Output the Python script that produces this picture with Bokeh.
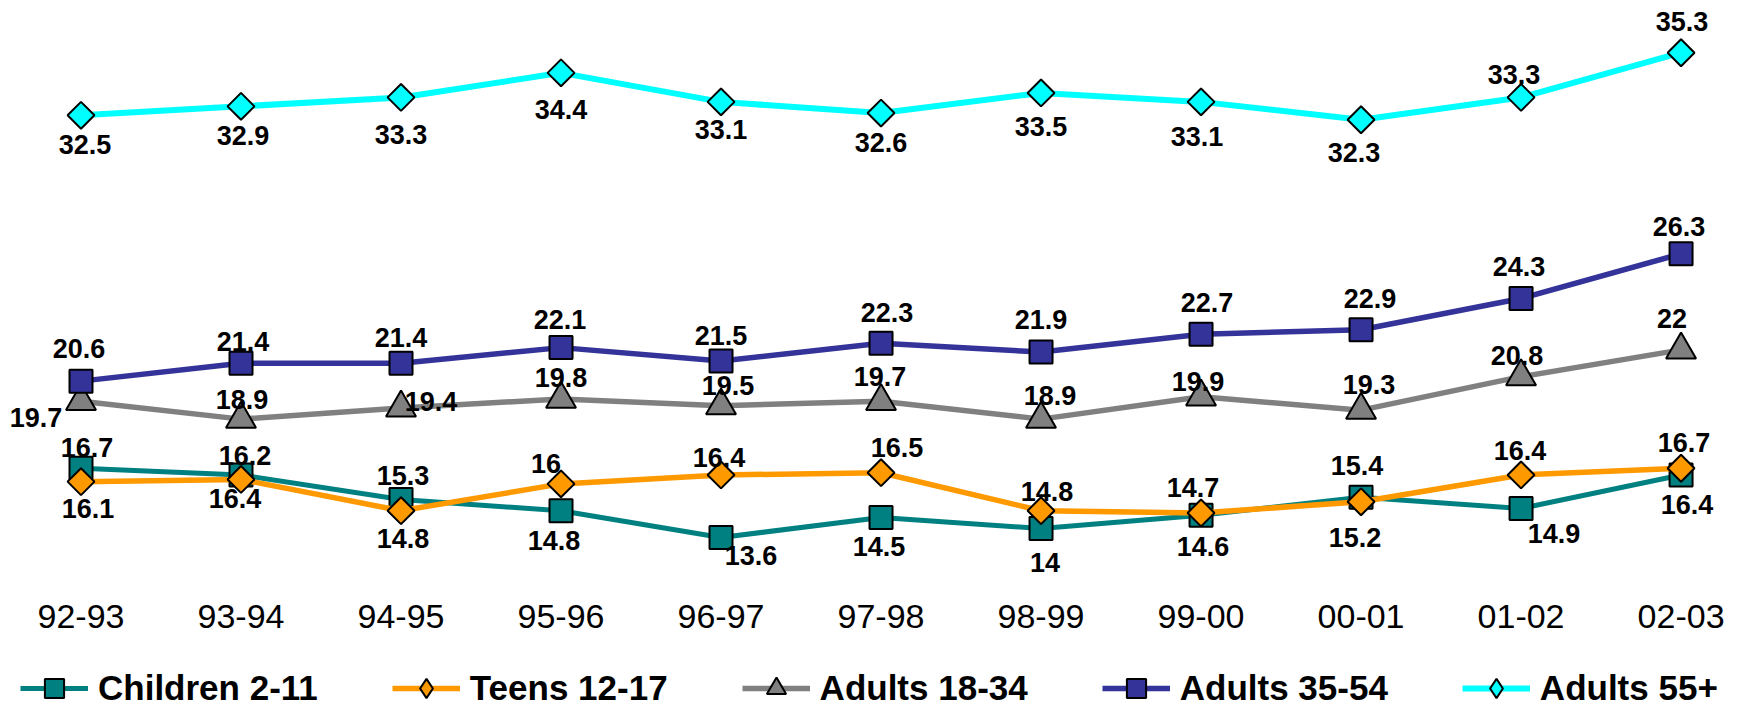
import math
from bokeh.plotting import figure
from bokeh.models import Range1d, FixedTicker, Legend, LegendItem, ColumnDataSource
from bokeh.embed import file_html
from bokeh.resources import INLINE
from bokeh.core.properties import value

# ---------------- data ----------------
categories = ["92-93", "93-94", "94-95", "95-96", "96-97", "97-98",
              "98-99", "99-00", "00-01", "01-02", "02-03"]

children_2_11 = [16.7, 16.4, 15.3, 14.8, 13.6, 14.5, 14.0, 14.6, 15.4, 14.9, 16.4]
teens_12_17 = [16.1, 16.2, 14.8, 16.0, 16.4, 16.5, 14.8, 14.7, 15.2, 16.4, 16.7]
adults_18_34 = [19.7, 18.9, 19.4, 19.8, 19.5, 19.7, 18.9, 19.9, 19.3, 20.8, 22.0]
adults_35_54 = [20.6, 21.4, 21.4, 22.1, 21.5, 22.3, 21.9, 22.7, 22.9, 24.3, 26.3]
adults_55_plus = [32.5, 32.9, 33.3, 34.4, 33.1, 32.6, 33.5, 33.1, 32.3, 33.3, 35.3]

series_names = ["Children 2-11", "Teens 12-17", "Adults 18-34", "Adults 35-54", "Adults 55+"]

# data-label placement (screen px offsets from each point)
children_label_offsets = [(6, -21), (-6, 24), (2, -24), (-7, 30), (30, 18), (-2, 29),
                          (4, 34), (2, 31), (-4, -32), (33, 25), (6, 30)]
teens_label_offsets = [(7, 27), (4, -24), (2, 28), (-15, -20), (-2, -17), (16, -25),
                       (6, -19), (-8, -25), (-6, 36), (-1, -24), (3, -26)]
adults_18_34_label_offsets = [(-45, 16), (1, -20), (30, -6), (0, -22), (7, -20), (-1, -25),
                              (9, -24), (-3, -15), (8, -26), (-4, -21), (-9, -31)]
adults_35_54_label_offsets = [(-2, -33), (2, -22), (0, -26), (-1, -28), (0, -26), (6, -31),
                              (0, -33), (6, -32), (9, -31), (-2, -32), (-2, -27)]
adults_55_plus_label_offsets = [(4, 29), (2, 29), (0, 37), (0, 37), (0, 28), (0, 29),
                                (0, 34), (-4, 35), (-7, 33), (-7, -23), (1, -31)]

# ---------------- styles ----------------
styles = [
    dict(color="#008080", marker="square", size=23, angle=0.0, lw=5, legend_marker="square"),
    dict(color="#FF9900", marker="square", size=19, angle=math.pi / 4, lw=5.5, legend_marker="diamond"),
    dict(color="#808080", marker="triangle", size=30, angle=0.0, lw=5.5, legend_marker="triangle"),
    dict(color="#333399", marker="square", size=23, angle=0.0, lw=5.5, legend_marker="square"),
    dict(color="#00FFFF", marker="square", size=19, angle=math.pi / 4, lw=6, legend_marker="diamond"),
]

all_series = [children_2_11, teens_12_17, adults_18_34, adults_35_54, adults_55_plus]
all_offsets = [children_label_offsets, teens_label_offsets, adults_18_34_label_offsets,
               adults_35_54_label_offsets, adults_55_plus_label_offsets]

Y_TOP = 37.28
PX_PER_UNIT = 22.34
FRAME_H = 704
y_axis_at = Y_TOP - 590 / PX_PER_UNIT          # value at the bottom of the plot area

p = figure(frame_width=1726, frame_height=FRAME_H,
           min_border_left=8, min_border_right=0, min_border_top=8, min_border_bottom=0,
           x_range=Range1d(-0.4531, 10.334),
           y_range=Range1d(Y_TOP - FRAME_H / PX_PER_UNIT, Y_TOP),
           output_backend="svg", toolbar_location=None)
p.outline_line_color = None
p.grid.visible = False
p.yaxis.visible = False
p.background_fill_color = "white"
p.border_fill_color = "white"

xax = p.xaxis[0]
xax.fixed_location = y_axis_at
xax.ticker = FixedTicker(ticks=list(range(len(categories))))
xax.major_label_overrides = {i: c for i, c in enumerate(categories)}
xax.axis_line_color = None
xax.major_tick_line_color = None
xax.minor_tick_line_color = None
xax.major_tick_out = 0
xax.major_tick_in = 0
xax.major_label_standoff = 6
xax.major_label_text_font = "Liberation Sans"
xax.major_label_text_font_size = "34px"
xax.major_label_text_color = "black"

xs = list(range(len(categories)))
items = []
for name, vals, st in zip(series_names, all_series, styles):
    src = ColumnDataSource(dict(x=xs, y=vals))
    lr = p.line("x", "y", source=src, line_color=st["color"], line_width=st["lw"])
    sr = p.scatter("x", "y", source=src, marker=st["marker"], size=st["size"],
                   angle=st["angle"], fill_color=st["color"], line_color="black",
                   line_width=2)
    if st["legend_marker"] != st["marker"]:
        # legend-only marker (legend glyphs ignore rotation)
        leg_r = p.scatter("x", "y", source=src, marker=st["legend_marker"], size=st["size"],
                          fill_color=st["color"], line_color="black", line_width=2,
                          visible=False)
        items.append(LegendItem(label=name, renderers=[lr, leg_r]))
    else:
        items.append(LegendItem(label=name, renderers=[lr, sr]))

for vals, offs in zip(all_series, all_offsets):
    src = ColumnDataSource(dict(
        x=xs, y=vals, t=["%g" % v for v in vals],
        dx=[o[0] for o in offs], dy=[o[1] for o in offs]))
    p.text("x", "y", text="t", source=src, x_offset="dx", y_offset="dy",
           text_align="center", text_baseline="middle",
           text_font=value("Liberation Sans"), text_font_style="bold",
           text_font_size="27px", text_color="black")

legend = Legend(items=items, orientation="horizontal", location=(12, 0),
                label_text_font="Liberation Sans", label_text_font_style="bold",
                label_text_font_size="35px", label_text_color="black",
                glyph_width=68, glyph_height=48, label_standoff=10, spacing=74,
                padding=0, margin=0, border_line_color=None, background_fill_alpha=0,
                inactive_fill_alpha=0)
p.add_layout(legend)

open("out.html", "w").write(file_html(p, INLINE))
